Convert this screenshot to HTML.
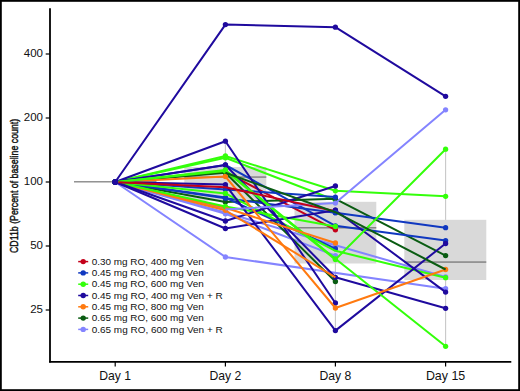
<!DOCTYPE html>
<html><head><meta charset="utf-8"><title>CD11b</title>
<style>html,body{margin:0;padding:0;background:#fff}svg{display:block}</style></head>
<body>
<svg width="520" height="391" viewBox="0 0 520 391" font-family="'Liberation Sans', Arial, sans-serif">
<rect x="0" y="0" width="520" height="391" fill="#fff"/>
<line x1="225.4" y1="141.2" x2="225.4" y2="228.5" stroke="#c8c8c8" stroke-width="1.1"/>
<line x1="335.4" y1="185.8" x2="335.4" y2="330.6" stroke="#c8c8c8" stroke-width="1.1"/>
<line x1="445.6" y1="149.2" x2="445.6" y2="346.3" stroke="#c8c8c8" stroke-width="1.1"/>
<line x1="74" y1="181.85" x2="156.5" y2="181.85" stroke="#5a5a5a" stroke-width="1"/>
<rect x="184.3" y="167" width="82.0" height="33.8" fill="#d9d9d9"/>
<line x1="184.3" y1="177.04999999999998" x2="266.3" y2="177.04999999999998" stroke="#5a5a5a" stroke-width="1"/>
<rect x="294.5" y="201.8" width="81.8" height="61.7" fill="#d9d9d9"/>
<line x1="294.5" y1="227.85" x2="376.3" y2="227.85" stroke="#5a5a5a" stroke-width="1"/>
<rect x="404.3" y="219.8" width="82.0" height="60.2" fill="#d9d9d9"/>
<line x1="404.3" y1="262.05" x2="486.3" y2="262.05" stroke="#5a5a5a" stroke-width="1"/>
<polyline points="115.20,182.00 225.40,172.00 335.40,229.80" fill="none" stroke="#c4001a" stroke-width="2.0" stroke-linejoin="round"/>
<circle cx="115.2" cy="182" r="2.65" fill="#c4001a"/>
<circle cx="225.4" cy="172" r="2.65" fill="#c4001a"/>
<circle cx="335.4" cy="229.8" r="2.65" fill="#c4001a"/>
<polyline points="115.20,182.00 225.40,257.00 445.60,288.70" fill="none" stroke="#8484ff" stroke-width="2.0" stroke-linejoin="round"/>
<circle cx="115.2" cy="182" r="2.65" fill="#8484ff"/>
<circle cx="225.4" cy="257" r="2.65" fill="#8484ff"/>
<circle cx="445.6" cy="288.7" r="2.65" fill="#8484ff"/>
<polyline points="115.20,182.00 225.40,213.75 335.40,255.60" fill="none" stroke="#8484ff" stroke-width="2.0" stroke-linejoin="round"/>
<circle cx="115.2" cy="182" r="2.65" fill="#8484ff"/>
<circle cx="225.4" cy="213.75" r="2.65" fill="#8484ff"/>
<circle cx="335.4" cy="255.6" r="2.65" fill="#8484ff"/>
<polyline points="115.20,182.00 225.40,212.50 335.40,245.20 445.60,277.00" fill="none" stroke="#8484ff" stroke-width="2.0" stroke-linejoin="round"/>
<circle cx="115.2" cy="182" r="2.65" fill="#8484ff"/>
<circle cx="225.4" cy="212.5" r="2.65" fill="#8484ff"/>
<circle cx="335.4" cy="245.2" r="2.65" fill="#8484ff"/>
<circle cx="445.6" cy="277" r="2.65" fill="#8484ff"/>
<polyline points="115.20,182.00 225.40,156.00 335.40,190.80 445.60,196.30" fill="none" stroke="#33ff0a" stroke-width="2.0" stroke-linejoin="round"/>
<circle cx="115.2" cy="182" r="2.65" fill="#33ff0a"/>
<circle cx="225.4" cy="156" r="2.65" fill="#33ff0a"/>
<circle cx="335.4" cy="190.8" r="2.65" fill="#33ff0a"/>
<circle cx="445.6" cy="196.3" r="2.65" fill="#33ff0a"/>
<polyline points="115.20,182.00 225.40,157.80 335.40,200.20" fill="none" stroke="#33ff0a" stroke-width="2.0" stroke-linejoin="round"/>
<circle cx="115.2" cy="182" r="2.65" fill="#33ff0a"/>
<circle cx="225.4" cy="157.8" r="2.65" fill="#33ff0a"/>
<circle cx="335.4" cy="200.2" r="2.65" fill="#33ff0a"/>
<polyline points="115.20,182.00 225.40,202.00 335.40,198.80 445.60,255.60" fill="none" stroke="#0a5c12" stroke-width="2.0" stroke-linejoin="round"/>
<circle cx="115.2" cy="182" r="2.65" fill="#0a5c12"/>
<circle cx="225.4" cy="202" r="2.65" fill="#0a5c12"/>
<circle cx="335.4" cy="198.8" r="2.65" fill="#0a5c12"/>
<circle cx="445.6" cy="255.6" r="2.65" fill="#0a5c12"/>
<polyline points="115.20,182.00 225.40,172.80 335.40,281.50" fill="none" stroke="#0a5c12" stroke-width="2.0" stroke-linejoin="round"/>
<circle cx="115.2" cy="182" r="2.65" fill="#0a5c12"/>
<circle cx="225.4" cy="172.8" r="2.65" fill="#0a5c12"/>
<circle cx="335.4" cy="281.5" r="2.65" fill="#0a5c12"/>
<polyline points="115.20,182.00 225.40,209.50" fill="none" stroke="#8484ff" stroke-width="2.0" stroke-linejoin="round"/>
<circle cx="115.2" cy="182" r="2.65" fill="#8484ff"/>
<circle cx="225.4" cy="209.5" r="2.65" fill="#8484ff"/>
<polyline points="115.20,182.00 225.40,176.50" fill="none" stroke="#ff7a10" stroke-width="2.0" stroke-linejoin="round"/>
<circle cx="115.2" cy="182" r="2.65" fill="#ff7a10"/>
<circle cx="225.4" cy="176.5" r="2.65" fill="#ff7a10"/>
<polyline points="115.20,182.00 225.40,207.80" fill="none" stroke="#ff7a10" stroke-width="2.0" stroke-linejoin="round"/>
<circle cx="115.2" cy="182" r="2.65" fill="#ff7a10"/>
<circle cx="225.4" cy="207.8" r="2.65" fill="#ff7a10"/>
<polyline points="115.20,182.00 225.40,210.30" fill="none" stroke="#ff7a10" stroke-width="2.0" stroke-linejoin="round"/>
<circle cx="115.2" cy="182" r="2.65" fill="#ff7a10"/>
<circle cx="225.4" cy="210.3" r="2.65" fill="#ff7a10"/>
<polyline points="115.20,182.00 225.40,189.50 335.40,197.10" fill="none" stroke="#1038c0" stroke-width="2.0" stroke-linejoin="round"/>
<circle cx="115.2" cy="182" r="2.65" fill="#1038c0"/>
<circle cx="225.4" cy="189.5" r="2.65" fill="#1038c0"/>
<circle cx="335.4" cy="197.1" r="2.65" fill="#1038c0"/>
<polyline points="115.20,182.00 225.40,198.20 335.40,212.70 445.60,227.70" fill="none" stroke="#1038c0" stroke-width="2.0" stroke-linejoin="round"/>
<circle cx="115.2" cy="182" r="2.65" fill="#1038c0"/>
<circle cx="225.4" cy="198.2" r="2.65" fill="#1038c0"/>
<circle cx="335.4" cy="212.7" r="2.65" fill="#1038c0"/>
<circle cx="445.6" cy="227.7" r="2.65" fill="#1038c0"/>
<polyline points="115.20,182.00 225.40,165.00 335.40,225.80 445.60,240.60" fill="none" stroke="#1038c0" stroke-width="2.0" stroke-linejoin="round"/>
<circle cx="115.2" cy="182" r="2.65" fill="#1038c0"/>
<circle cx="225.4" cy="165" r="2.65" fill="#1038c0"/>
<circle cx="335.4" cy="225.8" r="2.65" fill="#1038c0"/>
<circle cx="445.6" cy="240.6" r="2.65" fill="#1038c0"/>
<polyline points="115.20,182.00 225.40,197.60 335.40,248.70" fill="none" stroke="#1038c0" stroke-width="2.0" stroke-linejoin="round"/>
<circle cx="115.2" cy="182" r="2.65" fill="#1038c0"/>
<circle cx="225.4" cy="197.6" r="2.65" fill="#1038c0"/>
<circle cx="335.4" cy="248.7" r="2.65" fill="#1038c0"/>
<polyline points="115.20,182.00 225.40,193.40 335.40,250.80 445.60,277.70" fill="none" stroke="#33ff0a" stroke-width="2.0" stroke-linejoin="round"/>
<circle cx="115.2" cy="182" r="2.65" fill="#33ff0a"/>
<circle cx="225.4" cy="193.4" r="2.65" fill="#33ff0a"/>
<circle cx="445.6" cy="277.7" r="2.65" fill="#33ff0a"/>
<polyline points="115.20,182.00 225.40,206.50 335.40,226.50" fill="none" stroke="#33ff0a" stroke-width="2.0" stroke-linejoin="round"/>
<circle cx="115.2" cy="182" r="2.65" fill="#33ff0a"/>
<circle cx="225.4" cy="206.5" r="2.65" fill="#33ff0a"/>
<circle cx="335.4" cy="226.5" r="2.65" fill="#33ff0a"/>
<polyline points="115.20,182.00 225.40,24.60 335.40,27.20 445.60,96.30" fill="none" stroke="#1f0a9e" stroke-width="2.0" stroke-linejoin="round"/>
<circle cx="115.2" cy="182" r="2.65" fill="#1f0a9e"/>
<circle cx="225.4" cy="24.6" r="2.65" fill="#1f0a9e"/>
<circle cx="335.4" cy="27.2" r="2.65" fill="#1f0a9e"/>
<circle cx="445.6" cy="96.3" r="2.65" fill="#1f0a9e"/>
<polyline points="115.20,182.00 225.40,141.20 335.40,303.00" fill="none" stroke="#1f0a9e" stroke-width="2.0" stroke-linejoin="round"/>
<circle cx="115.2" cy="182" r="2.65" fill="#1f0a9e"/>
<circle cx="225.4" cy="141.2" r="2.65" fill="#1f0a9e"/>
<circle cx="335.4" cy="303" r="2.65" fill="#1f0a9e"/>
<polyline points="115.20,182.00 225.40,165.00 335.40,277.30 445.60,308.30" fill="none" stroke="#1f0a9e" stroke-width="2.0" stroke-linejoin="round"/>
<circle cx="115.2" cy="182" r="2.65" fill="#1f0a9e"/>
<circle cx="225.4" cy="165" r="2.65" fill="#1f0a9e"/>
<circle cx="335.4" cy="277.3" r="2.65" fill="#1f0a9e"/>
<circle cx="445.6" cy="308.3" r="2.65" fill="#1f0a9e"/>
<polyline points="115.20,182.00 225.40,184.60 335.40,330.60 445.60,243.50" fill="none" stroke="#1f0a9e" stroke-width="2.0" stroke-linejoin="round"/>
<circle cx="115.2" cy="182" r="2.65" fill="#1f0a9e"/>
<circle cx="225.4" cy="184.6" r="2.65" fill="#1f0a9e"/>
<circle cx="335.4" cy="330.6" r="2.65" fill="#1f0a9e"/>
<circle cx="445.6" cy="243.5" r="2.65" fill="#1f0a9e"/>
<polyline points="115.20,182.00 225.40,221.00 335.40,186.00" fill="none" stroke="#1f0a9e" stroke-width="2.0" stroke-linejoin="round"/>
<circle cx="115.2" cy="182" r="2.65" fill="#1f0a9e"/>
<circle cx="225.4" cy="221" r="2.65" fill="#1f0a9e"/>
<circle cx="335.4" cy="186" r="2.65" fill="#1f0a9e"/>
<polyline points="115.20,182.00 225.40,228.50 335.40,210.20 445.60,292.10" fill="none" stroke="#1f0a9e" stroke-width="2.0" stroke-linejoin="round"/>
<circle cx="115.2" cy="182" r="2.65" fill="#1f0a9e"/>
<circle cx="225.4" cy="228.5" r="2.65" fill="#1f0a9e"/>
<circle cx="335.4" cy="210.2" r="2.65" fill="#1f0a9e"/>
<circle cx="445.6" cy="292.1" r="2.65" fill="#1f0a9e"/>
<polyline points="118.40,181.65 225.40,170.00 335.40,258.80 445.60,346.30" fill="none" stroke="#33ff0a" stroke-width="2.0" stroke-linejoin="round"/>
<circle cx="225.4" cy="170" r="2.65" fill="#33ff0a"/>
<circle cx="335.4" cy="258.8" r="2.65" fill="#33ff0a"/>
<circle cx="445.6" cy="346.3" r="2.65" fill="#33ff0a"/>
<polyline points="118.40,181.68 225.40,171.00 335.40,259.60 445.60,149.20" fill="none" stroke="#33ff0a" stroke-width="2.0" stroke-linejoin="round"/>
<circle cx="225.4" cy="171" r="2.65" fill="#33ff0a"/>
<circle cx="335.4" cy="259.6" r="2.65" fill="#33ff0a"/>
<circle cx="445.6" cy="149.2" r="2.65" fill="#33ff0a"/>
<polyline points="225.40,176.50 335.40,308.00 445.60,269.50" fill="none" stroke="#ff7a10" stroke-width="2.0" stroke-linejoin="round"/>
<circle cx="335.4" cy="308" r="2.65" fill="#ff7a10"/>
<circle cx="445.6" cy="269.5" r="2.65" fill="#ff7a10"/>
<polyline points="225.40,207.80 335.40,243.00" fill="none" stroke="#ff7a10" stroke-width="2.0" stroke-linejoin="round"/>
<circle cx="335.4" cy="243" r="2.65" fill="#ff7a10"/>
<polyline points="225.40,210.30 335.40,277.30" fill="none" stroke="#ff7a10" stroke-width="2.0" stroke-linejoin="round"/>
<polyline points="225.40,209.50 335.40,203.10 445.60,109.80" fill="none" stroke="#8484ff" stroke-width="2.0" stroke-linejoin="round"/>
<circle cx="335.4" cy="203.1" r="2.65" fill="#8484ff"/>
<circle cx="445.6" cy="109.8" r="2.65" fill="#8484ff"/>
<polyline points="118.40,182.15 225.40,187.20 335.40,211.20" fill="none" stroke="#c4001a" stroke-width="2.0" stroke-linejoin="round"/>
<circle cx="335.4" cy="210.2" r="2.65" fill="#1f0a9e"/>
<circle cx="335.4" cy="212.7" r="2.65" fill="#1038c0"/>
<polyline points="225.40,172.80 335.40,212.20 445.60,269.50" fill="none" stroke="#0a5c12" stroke-width="2.0" stroke-linejoin="round"/>
<line x1="50" y1="8.3" x2="50" y2="362.6" stroke="#000" stroke-width="1.8"/>
<line x1="49.1" y1="361.8" x2="511.3" y2="361.8" stroke="#000" stroke-width="1.7"/>
<line x1="45.7" y1="54" x2="50" y2="54" stroke="#000" stroke-width="1.2"/>
<text x="43" y="57.1" font-size="10.4" text-anchor="end" textLength="19.2" lengthAdjust="spacingAndGlyphs" fill="#111">400</text>
<line x1="45.7" y1="118" x2="50" y2="118" stroke="#000" stroke-width="1.2"/>
<text x="43" y="121.1" font-size="10.4" text-anchor="end" textLength="19.2" lengthAdjust="spacingAndGlyphs" fill="#111">200</text>
<line x1="45.7" y1="182" x2="50" y2="182" stroke="#000" stroke-width="1.2"/>
<text x="43" y="185.1" font-size="10.4" text-anchor="end" textLength="19.2" lengthAdjust="spacingAndGlyphs" fill="#111">100</text>
<line x1="45.7" y1="246" x2="50" y2="246" stroke="#000" stroke-width="1.2"/>
<text x="43" y="249.1" font-size="10.4" text-anchor="end" textLength="12.8" lengthAdjust="spacingAndGlyphs" fill="#111">50</text>
<line x1="45.7" y1="310" x2="50" y2="310" stroke="#000" stroke-width="1.2"/>
<text x="43" y="313.1" font-size="10.4" text-anchor="end" textLength="12.8" lengthAdjust="spacingAndGlyphs" fill="#111">25</text>
<line x1="115.2" y1="361.8" x2="115.2" y2="366.4" stroke="#000" stroke-width="1.2"/>
<text x="115.2" y="379.6" font-size="12.2" text-anchor="middle" fill="#111">Day 1</text>
<line x1="225.4" y1="361.8" x2="225.4" y2="366.4" stroke="#000" stroke-width="1.2"/>
<text x="225.4" y="379.6" font-size="12.2" text-anchor="middle" fill="#111">Day 2</text>
<line x1="335.4" y1="361.8" x2="335.4" y2="366.4" stroke="#000" stroke-width="1.2"/>
<text x="335.4" y="379.6" font-size="12.2" text-anchor="middle" fill="#111">Day 8</text>
<line x1="445.6" y1="361.8" x2="445.6" y2="366.4" stroke="#000" stroke-width="1.2"/>
<text x="445.6" y="379.6" font-size="12.2" text-anchor="middle" textLength="39.4" lengthAdjust="spacingAndGlyphs" fill="#111">Day 15</text>
<text transform="translate(18.3,253) rotate(-90)" font-size="11.6" stroke="#111" stroke-width="0.45" textLength="134.2" lengthAdjust="spacingAndGlyphs" fill="#111">CD11b (Percent of baseline count)</text>
<line x1="78.2" y1="261.6" x2="88.2" y2="261.6" stroke="#c4001a" stroke-width="1.5"/>
<circle cx="83.2" cy="261.6" r="2.7" fill="#c4001a"/>
<text x="91.7" y="264.8" font-size="9" textLength="112" lengthAdjust="spacingAndGlyphs" fill="#111">0.30 mg RO, 400 mg Ven</text>
<line x1="78.2" y1="272.9" x2="88.2" y2="272.9" stroke="#1038c0" stroke-width="1.5"/>
<circle cx="83.2" cy="272.9" r="2.7" fill="#1038c0"/>
<text x="91.7" y="276.1" font-size="9" textLength="112" lengthAdjust="spacingAndGlyphs" fill="#111">0.45 mg RO, 400 mg Ven</text>
<line x1="78.2" y1="284.2" x2="88.2" y2="284.2" stroke="#33ff0a" stroke-width="1.5"/>
<circle cx="83.2" cy="284.2" r="2.7" fill="#33ff0a"/>
<text x="91.7" y="287.4" font-size="9" textLength="112" lengthAdjust="spacingAndGlyphs" fill="#111">0.45 mg RO, 600 mg Ven</text>
<line x1="78.2" y1="295.5" x2="88.2" y2="295.5" stroke="#1f0a9e" stroke-width="1.5"/>
<circle cx="83.2" cy="295.5" r="2.7" fill="#1f0a9e"/>
<text x="91.7" y="298.7" font-size="9" textLength="131" lengthAdjust="spacingAndGlyphs" fill="#111">0.45 mg RO, 400 mg Ven + R</text>
<line x1="78.2" y1="306.8" x2="88.2" y2="306.8" stroke="#ff7a10" stroke-width="1.5"/>
<circle cx="83.2" cy="306.8" r="2.7" fill="#ff7a10"/>
<text x="91.7" y="310.0" font-size="9" textLength="112" lengthAdjust="spacingAndGlyphs" fill="#111">0.45 mg RO, 800 mg Ven</text>
<line x1="78.2" y1="318.1" x2="88.2" y2="318.1" stroke="#0a5c12" stroke-width="1.5"/>
<circle cx="83.2" cy="318.1" r="2.7" fill="#0a5c12"/>
<text x="91.7" y="321.3" font-size="9" textLength="112" lengthAdjust="spacingAndGlyphs" fill="#111">0.65 mg RO, 600 mg Ven</text>
<line x1="78.2" y1="329.4" x2="88.2" y2="329.4" stroke="#8484ff" stroke-width="1.5"/>
<circle cx="83.2" cy="329.4" r="2.7" fill="#8484ff"/>
<text x="91.7" y="332.6" font-size="9" textLength="131" lengthAdjust="spacingAndGlyphs" fill="#111">0.65 mg RO, 600 mg Ven + R</text>
<rect x="0.9" y="0.9" width="518.2" height="389.2" fill="none" stroke="#000" stroke-width="1.8"/>
</svg>
</body></html>
